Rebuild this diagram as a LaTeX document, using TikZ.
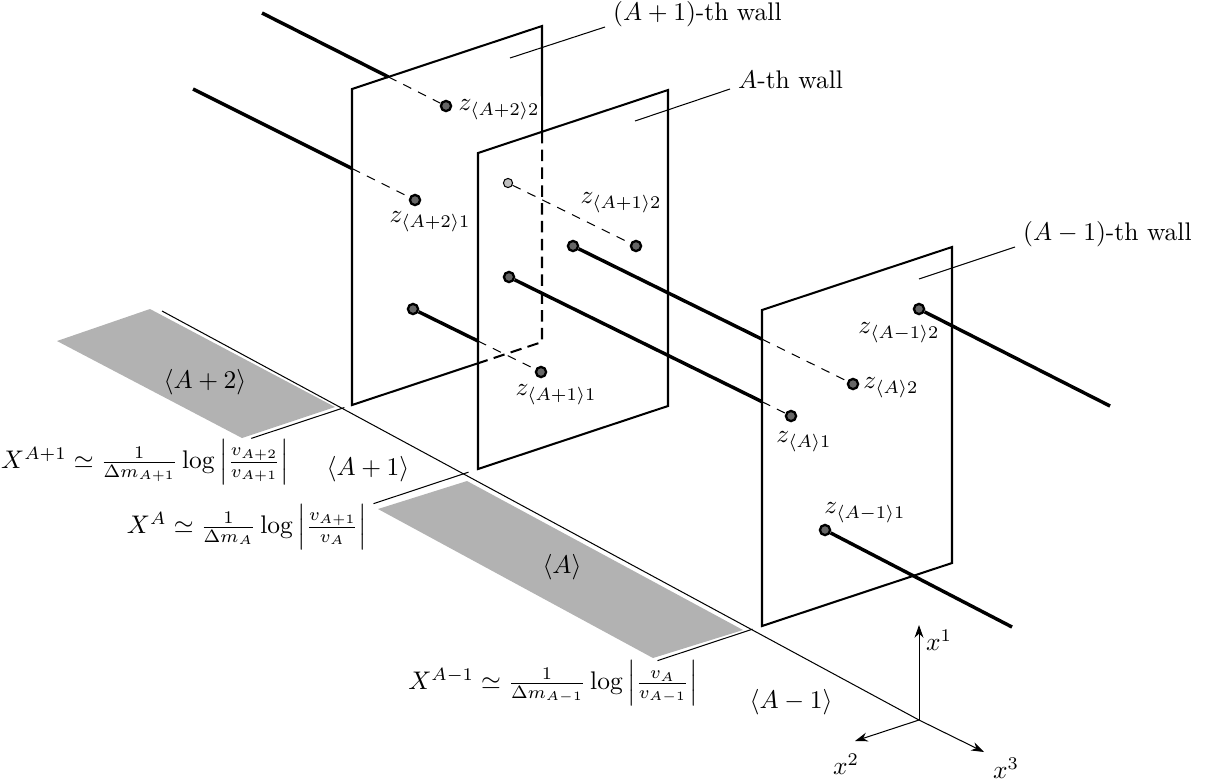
\documentclass[tikz,border=0pt]{standalone}
\usepackage{amsmath,amssymb}
\usepackage{tikz}
\usetikzlibrary{
  arrows.meta,
  calc,
}

\begin{document}
\begin{tikzpicture}[
  x=0.0138cm, y=-0.0138cm,
  every node/.style={inner sep=1pt},
  wall/.style={draw=black, line width=0.8pt, line join=miter},
  hiddenwall/.style={line width=0.8pt, dash pattern=on 4.5pt off 2.5pt},
  string/.style={line width=1.35pt},
  hidden/.style={thin, dash pattern=on 3.5pt off 3pt},
  leader/.style={thin},
  zone/.style={fill=black!30, draw=none},
  dot/.style={circle, draw=black, line width=0.9pt, fill=black!60,
              inner sep=0pt, minimum size=4pt},
  ghost/.style={circle, draw=black, line width=0.4pt, fill=black!25,
                inner sep=0pt, minimum size=3.6pt},
  wlabel/.style={anchor=south west, inner xsep=3pt, inner ysep=0pt},
  axis/.style={thin, -{Stealth[length=5pt, width=3.5pt]}},
]
\useasboundingbox (0,0) rectangle (1205,783);

\fill[zone] (150,309) -- (335,407) -- (242,438) -- (57,341) -- cycle;
\fill[zone] (467,481) -- (743,630) -- (653,658) -- (378,509) -- cycle;

\coordinate (F) at (162,311);
\coordinate (O) at (919,720);
\draw[thin] (F) -- (O);

\coordinate (Pbl) at (352,405);
\coordinate (Ptl) at (352,89);
\coordinate (Ptr) at (542,26);
\coordinate (Pbr) at (542,342);
\coordinate (Qbl) at (478,469);
\coordinate (Qtl) at (478,153);
\coordinate (Qtr) at (668,90);
\coordinate (Qbr) at (668,406);
\coordinate (Rbl) at (762,626);
\coordinate (Rtl) at (762,310);
\coordinate (Rtr) at (952,247);
\coordinate (Rbr) at (952,563);

\draw[leader] ($(Pbl)!-0.04!(Pbr)$) -- ($(Pbl)!-0.53!(Pbr)$);
\draw[leader] ($(Qbl)!-0.05!(Qbr)$) -- ($(Qbl)!-0.55!(Qbr)$);
\draw[leader] ($(Rbl)!-0.05!(Rbr)$) -- ($(Rbl)!-0.55!(Rbr)$);

\coordinate (Ptop) at (intersection of Ptr--Pbr and Qtl--Qtr);
\coordinate (Pjoin) at (intersection of Pbl--Pbr and Qbl--Qtl);
\draw[wall] (Pjoin) -- (Pbl) -- (Ptl) -- (Ptr) -- (Ptop);
\draw[hiddenwall] (Ptop) -- (Pbr) -- (Pjoin);
\draw[wall] (Qbl) -- (Qtl) -- (Qtr) -- (Qbr) -- cycle;
\draw[wall] (Rbl) -- (Rtl) -- (Rtr) -- (Rbr) -- cycle;

\node[dot] (z22) at (446,106) {};
\node[dot] (z21) at (415,200) {};
\node[ghost] (zL) at (508,183) {};
\node[dot] (z12) at (636,246) {};
\node[dot] (b1) at (413,309) {};
\node[dot] (z11) at (541,372) {};
\node[dot] (a2) at (573,246) {};
\node[dot] (a1) at (509,277) {};
\node[dot] (zA2) at (853,384) {};
\node[dot] (zA1) at (791,416) {};
\node[dot] (m2) at (919,309) {};
\node[dot] (m1) at (825,530) {};

\coordinate (s1) at (262,13);
\coordinate (s2) at (193,89);
\coordinate (e2) at (1110,406);
\coordinate (e1) at (1012,627);

\coordinate (c1) at (intersection of s1--z22.center and Ptl--Ptr);
\coordinate (c2) at (intersection of s2--z21.center and Pbl--Ptl);
\coordinate (c3) at (intersection of b1.center--z11.center and Qbl--Qtl);
\coordinate (c4) at (intersection of a2.center--zA2.center and Rbl--Rtl);
\coordinate (c5) at (intersection of a1.center--zA1.center and Rbl--Rtl);

\draw[string] (s1) -- (c1);
\draw[hidden] (c1) -- (z22);
\draw[string] (s2) -- (c2);
\draw[hidden] (c2) -- (z21);
\draw[hidden] (zL) -- (z12);
\draw[string] (b1) -- (c3);
\draw[hidden] (c3) -- (z11);
\draw[string] (a2) -- (c4);
\draw[hidden] (c4) -- (zA2);
\draw[string] (a1) -- (c5);
\draw[hidden] (c5) -- (zA1);
\draw[string] (m2) -- (e2);
\draw[string] (m1) -- (e1);

\node (lz22) at (499,110) {$z_{\langle A+2\rangle 2}$};
\node (lz21) at (430,222) {$z_{\langle A+2\rangle 1}$};
\node (lz12) at (621,203) {$z_{\langle A+1\rangle 2}$};
\node (lz11) at (556,395) {$z_{\langle A+1\rangle 1}$};
\node (lzA2) at (891,388) {$z_{\langle A\rangle 2}$};
\node (lzA1) at (804,442) {$z_{\langle A\rangle 1}$};
\node (lzm2) at (899,333) {$z_{\langle A-1\rangle 2}$};
\node (lzm1) at (865,513) {$z_{\langle A-1\rangle 1}$};

\node[wlabel] (wP) at (605,27) {$(A+1)$-th wall};
\node[wlabel] (wQ) at (730,89) {$A$-th wall};
\node[wlabel] (wR) at (1015,247) {$(A-1)$-th wall};
\coordinate (tP) at (510,58);
\coordinate (tQ) at (635,121);
\coordinate (tR) at (919,279);
\draw[leader] (tP) -- (wP.south west);
\draw[leader] (tQ) -- (wQ.south west);
\draw[leader] (tR) -- (wR.south west);

\node (vAp2) at (205,382) {$\langle A+2\rangle$};
\node (vAp1) at (368,469) {$\langle A+1\rangle$};
\node (vA) at (562,567) {$\langle A\rangle$};
\node (vAm1) at (791,702) {$\langle A-1\rangle$};

\node[inner sep=0pt] (fAp1) at (145,462)
  {$X^{A+1}\simeq\frac{1}{\Delta m_{A+1}}\log\left|\frac{v_{A+2}}{v_{A+1}}\right|$};
\node[inner sep=0pt] (fA) at (247,527)
  {$X^{A}\simeq\frac{1}{\Delta m_{A}}\log\left|\frac{v_{A+1}}{v_{A}}\right|$};
\node[inner sep=0pt] (fAm1) at (553,683)
  {$X^{A-1}\simeq\frac{1}{\Delta m_{A-1}}\log\left|\frac{v_{A}}{v_{A-1}}\right|$};

\coordinate (t1) at (919,625);
\coordinate (t2) at (855,741);
\coordinate (t3) at (984,752);
\draw[axis] (O) -- (t1);
\draw[axis] (O) -- (t2);
\draw[axis] (O) -- (t3);
\node (x1) at (939,640) {$x^1$};
\node (x2) at (846,764) {$x^2$};
\node (x3) at (1006,768) {$x^3$};

\end{tikzpicture}
\end{document}
